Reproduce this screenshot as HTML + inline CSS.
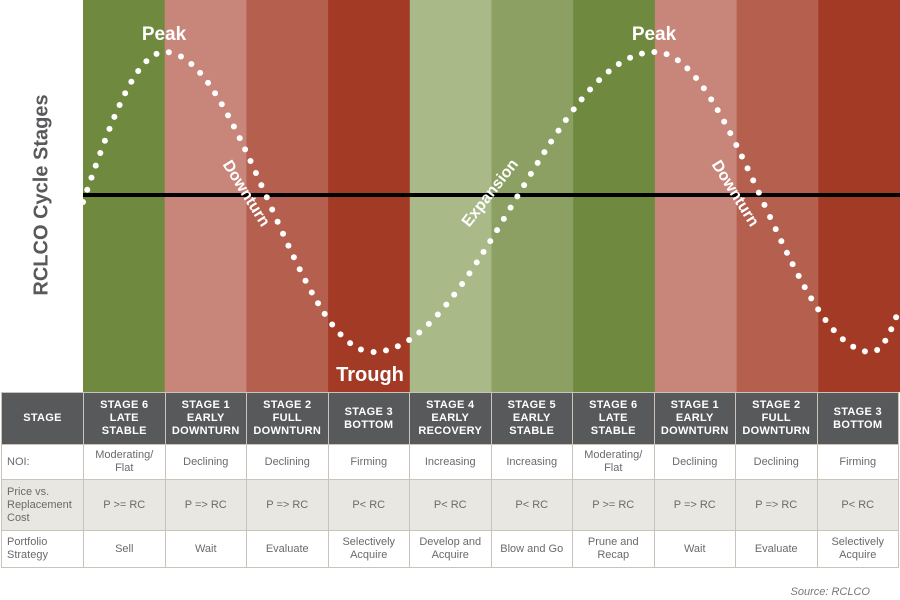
<!DOCTYPE html>
<html><head><meta charset="utf-8"><style>
body{margin:0;width:900px;height:600px;background:#fff;overflow:hidden;font-family:"Liberation Sans",sans-serif}
#wrap{position:relative;width:900px;height:600px}
table{position:absolute;left:1px;top:392px;width:898px;border-collapse:collapse;table-layout:fixed}
td,th{border:1px solid #c9c3b9;text-align:center;color:#6a6a6a;font-size:11px;line-height:13px;padding:0 2px;font-stretch:condensed}
th{background:#58595b;color:#fff;font-size:11px;font-weight:bold;letter-spacing:0.3px;height:51px;border-color:#c9c3b9}
td.l{text-align:left;padding-left:5px}
tr.g td{background:#e9e7e2}
</style></head><body><div id="wrap">
<svg id="chart" width="900" height="392" style="position:absolute;left:0;top:0">
<g id="bands"></g>
<line x1="83" y1="195" x2="900" y2="195" stroke="#000" stroke-width="4"/>
<g id="dots"></g>
<text x="42" y="195" transform="rotate(-90 42 195)" text-anchor="middle" dominant-baseline="middle" font-size="20" font-weight="bold" fill="#58595b" font-family="Liberation Sans Narrow, Liberation Sans, sans-serif">RCLCO Cycle Stages</text>
<g fill="#fff" font-weight="bold" font-family="Liberation Sans Narrow, Liberation Sans, sans-serif">
<text x="164" y="40" text-anchor="middle" font-size="19">Peak</text>
<text x="654" y="40" text-anchor="middle" font-size="19">Peak</text>
<text x="370" y="381" text-anchor="middle" font-size="20">Trough</text>
<text x="0" y="0" transform="translate(242,196) rotate(58)" text-anchor="middle" font-size="16">Downturn</text>
<text x="0" y="0" transform="translate(731,196) rotate(58)" text-anchor="middle" font-size="16">Downturn</text>
<text x="0" y="0" transform="translate(494,196) rotate(-52)" text-anchor="middle" font-size="16">Expansion</text>
</g>
</svg>
<table>
<colgroup><col style="width:82px"><col span="10"></colgroup>
<tr><th>STAGE</th><th>STAGE 6<br>LATE<br>STABLE</th><th>STAGE 1<br>EARLY<br>DOWNTURN</th><th>STAGE 2<br>FULL<br>DOWNTURN</th><th>STAGE 3<br>BOTTOM</th><th>STAGE 4<br>EARLY<br>RECOVERY</th><th>STAGE 5<br>EARLY<br>STABLE</th><th>STAGE 6<br>LATE<br>STABLE</th><th>STAGE 1<br>EARLY<br>DOWNTURN</th><th>STAGE 2<br>FULL<br>DOWNTURN</th><th>STAGE 3<br>BOTTOM</th></tr>
<tr style="height:35px"><td class="l">NOI:</td><td>Moderating/<br>Flat</td><td>Declining</td><td>Declining</td><td>Firming</td><td>Increasing</td><td>Increasing</td><td>Moderating/<br>Flat</td><td>Declining</td><td>Declining</td><td>Firming</td></tr>
<tr class="g" style="height:51px"><td class="l">Price vs.<br>Replacement<br>Cost</td><td>P &gt;= RC</td><td>P =&gt; RC</td><td>P =&gt; RC</td><td>P&lt; RC</td><td>P&lt; RC</td><td>P&lt; RC</td><td>P &gt;= RC</td><td>P =&gt; RC</td><td>P =&gt; RC</td><td>P&lt; RC</td></tr>
<tr style="height:37px"><td class="l">Portfolio<br>Strategy</td><td>Sell</td><td>Wait</td><td>Evaluate</td><td>Selectively<br>Acquire</td><td>Develop and<br>Acquire</td><td>Blow and Go</td><td>Prune and<br>Recap</td><td>Wait</td><td>Evaluate</td><td>Selectively<br>Acquire</td></tr>
</table>
<div style="position:absolute;right:30px;top:586px;font-size:11px;font-style:italic;color:#777">Source: RCLCO</div>
</div>
<script>
const stages=["S6","S1","S2","S3","S4","S5","S6","S1","S2","S3"];
const bandColors=["#6f8a3e","#c8857a","#b55f4f","#a33a25","#a9b988","#8ba062","#6f8a3e","#c8857a","#b55f4f","#a33a25"];
// cycle extrema: x position (in stage units from 0) and level (1=peak, -1=trough)
const extremaX=[-1,1,3.55,7,9.65,11];
const extremaLevel=[-1,1,-1,1,-1,0.95];
const x0=83,bw=81.7,mid=202,amp=150;
const xs=v=>x0+v*bw, ys=v=>mid-v*amp;
const ns="http://www.w3.org/2000/svg";
const bands=document.getElementById('bands');
stages.forEach((s,i)=>{const r=document.createElementNS(ns,'rect');
r.setAttribute('x',xs(i));r.setAttribute('y',0);r.setAttribute('width',bw+0.5);r.setAttribute('height',392);r.setAttribute('fill',bandColors[i]);


bands.appendChild(r);});
// sample curve
const pts=[];
for(let k=0;k<extremaX.length-1;k++){const a=extremaX[k],b=extremaX[k+1],la=extremaLevel[k],lb=extremaLevel[k+1];
for(let t=0;t<=1;t+=0.002){const v=a+(b-a)*t;const l=la+(lb-la)*(1-Math.cos(Math.PI*t))/2;const px=xs(v);if(px>=x0&&px<=900)pts.push([px,ys(l)]);}}
const g=document.getElementById('dots');let acc=13,prev=null;
pts.forEach(p=>{if(prev){acc+=Math.hypot(p[0]-prev[0],p[1]-prev[1]);}prev=p;
if(acc>=12.5){acc=0;const c=document.createElementNS(ns,'circle');c.setAttribute('cx',p[0]);c.setAttribute('cy',p[1]);c.setAttribute('r',3);c.setAttribute('fill','#fff');


g.appendChild(c);}});
</script>
</body></html>
